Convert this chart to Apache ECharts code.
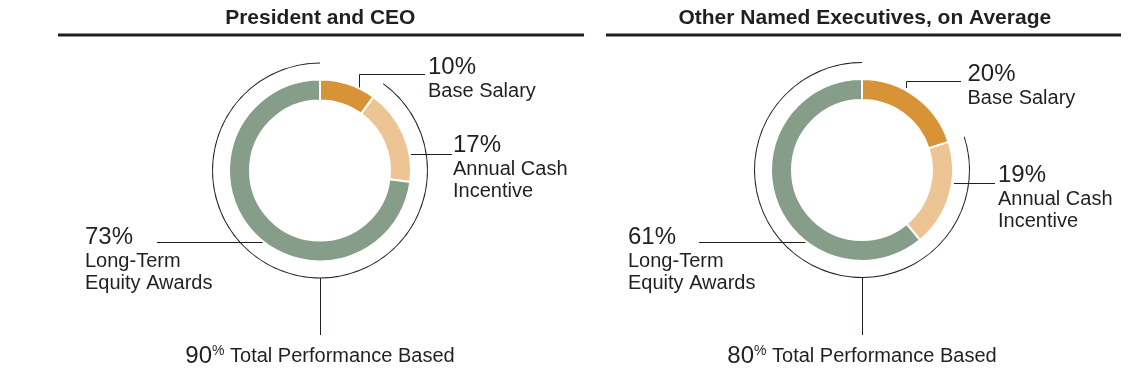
<!DOCTYPE html>
<html><head><meta charset="utf-8">
<script src="https://cdn.jsdelivr.net/npm/echarts@6/dist/echarts.min.js"></script>
<style>html,body{margin:0;padding:0;background:#fff}#c{width:1136px;height:371px}</style>
</head><body><div id="c"></div>
<script>
// ---- data ----
const categories = ['Base Salary', 'Annual Cash Incentive', 'Long-Term Equity Awards'];
const categoryLabelLines = [['Base Salary'], ['Annual Cash', 'Incentive'], ['Long-Term', 'Equity Awards']];
const panelTitles = ['President and CEO', 'Other Named Executives, on Average'];
const ceoValues = [10, 17, 73];
const otherValues = [20, 19, 61];
const performanceBased = [90, 80];
const performanceLabel = 'Total Performance Based';

// ---- style / layout ----
const FONT = "'Liberation Sans', Arial, Helvetica, sans-serif";
const TXT = '#231f20';
const sliceColors = ['#D99337', '#EDC494', '#869D89'];

const layout = [
  { cx: 320, cy: 170.5, titleX: 320.3,
    labels: [
      { x: 428, y: 54.0, line: [[359.5, 88], [359.5, 74.5], [425, 74.5]] },
      { x: 453, y: 132.0, line: [[411, 154.5], [452, 154.5]] },
      { x: 85, y: 224.0, line: [[265, 242.5], [157, 242.5]] }
    ],
    perf: { x: 320, y: 344.5, line: [[320.5, 278], [320.5, 335]] } },
  { cx: 862, cy: 170, titleX: 864.8,
    labels: [
      { x: 967.5, y: 61.0, line: [[906.5, 88], [906.5, 81.5], [961, 81.5]] },
      { x: 998, y: 162.3, line: [[954, 183.5], [995, 183.5]] },
      { x: 628, y: 224.0, line: [[806.5, 242.5], [699, 242.5]] }
    ],
    perf: { x: 862, y: 344.5, line: [[862.5, 278], [862.5, 335]] } }
];

const richLabel = {
  p: { fontFamily: FONT, fontSize: 24, lineHeight: 26, color: TXT },
  n: { fontFamily: FONT, fontSize: 20, lineHeight: 22, color: TXT }
};
const richPerf = {
  a: { fontFamily: FONT, fontSize: 24, lineHeight: 24, color: TXT },
  b: { fontFamily: FONT, fontSize: 14, lineHeight: 14, color: TXT, verticalAlign: 'top' },
  c: { fontFamily: FONT, fontSize: 20, lineHeight: 24, color: TXT }
};

function donutSeries(values, cfg) {
  return {
    type: 'pie', silent: true, animation: false,
    center: [cfg.cx, cfg.cy], radius: [70, 91],
    startAngle: 90, clockwise: true, avoidLabelOverlap: false,
    itemStyle: { borderColor: '#fff', borderWidth: 2 },
    label: {
      show: true, position: 'outside',
      formatter: p => '{p|' + p.value + '%}\n' +
        categoryLabelLines[p.dataIndex].map(s => '{n|' + s + '}').join('\n'),
      rich: richLabel
    },
    labelLine: { show: true, lineStyle: { color: TXT, width: 1 } },
    labelLayout: params => {
      const l = cfg.labels[params.dataIndex];
      return { x: l.x, y: l.y, align: 'left', verticalAlign: 'top', labelLinePoints: l.line };
    },
    data: categories.map((n, i) => ({ name: n, value: values[i], itemStyle: { color: sliceColors[i] } }))
  };
}

function perfSeries(values, perf, cfg) {
  return {
    type: 'pie', silent: true, animation: false,
    center: [cfg.cx, cfg.cy], radius: [107, 108],
    startAngle: 90, clockwise: true, avoidLabelOverlap: false,
    label: {
      show: true, position: 'outside',
      formatter: p => '{a|' + p.value + '}{b|%}{c| ' + performanceLabel + '}',
      rich: richPerf
    },
    labelLine: { show: true, lineStyle: { color: TXT, width: 1 } },
    labelLayout: params => ({ x: cfg.perf.x, y: cfg.perf.y, align: 'center', verticalAlign: 'top',
      labelLinePoints: cfg.perf.line }),
    data: [
      { name: 'Fixed', value: values[0], itemStyle: { color: 'rgba(0,0,0,0)' },
        label: { show: false }, labelLine: { show: false } },
      { name: 'Performance', value: perf, itemStyle: { color: TXT } }
    ]
  };
}

const chart = echarts.init(document.getElementById('c'), null, { renderer: 'canvas' });
const allValues = [ceoValues, otherValues];
chart.setOption({
  backgroundColor: '#fff',
  animation: false,
  title: panelTitles.map((t, i) => ({
    text: t, left: layout[i].titleX, top: 8, textAlign: 'center', padding: 0,
    textStyle: { fontFamily: FONT, fontSize: 21, fontWeight: 'bold', color: TXT }
  })),
  graphic: [
    { type: 'line', shape: { x1: 58, y1: 35, x2: 584, y2: 35 }, style: { stroke: TXT, lineWidth: 3 } },
    { type: 'line', shape: { x1: 606, y1: 35, x2: 1121, y2: 35 }, style: { stroke: TXT, lineWidth: 3 } }
  ],
  series: [
    donutSeries(allValues[0], layout[0]),
    perfSeries(allValues[0], performanceBased[0], layout[0]),
    donutSeries(allValues[1], layout[1]),
    perfSeries(allValues[1], performanceBased[1], layout[1])
  ]
});
</script></body></html>
